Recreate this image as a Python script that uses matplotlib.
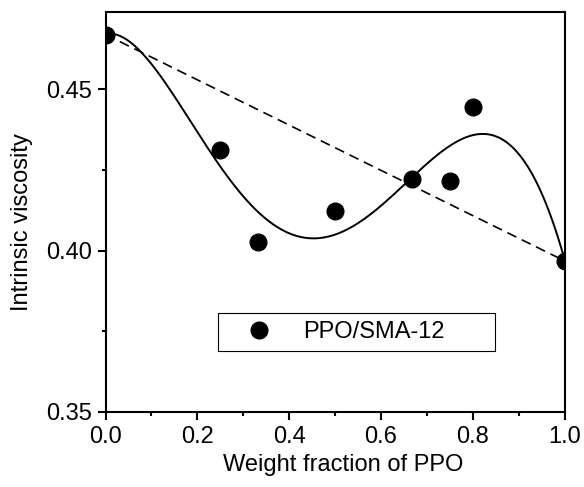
import numpy as np
import matplotlib
matplotlib.use('Agg')
import matplotlib.pyplot as plt
from matplotlib.ticker import MultipleLocator, FormatStrFormatter

# weight fraction of PPO and intrinsic viscosity
frac = [0.0, 0.25, 0.333, 0.5, 0.667, 0.75, 0.8, 1.0]
visc = [0.467, 0.4313, 0.4025, 0.4122, 0.4222, 0.4217, 0.4445, 0.3968]
fit_degree = 5  # polynomial fit drawn through the points

plt.rcParams['font.family'] = ['Liberation Sans', 'DejaVu Sans']

fig = plt.figure(figsize=(5.84, 4.87), dpi=100)
ax = fig.add_axes([0.1807, 0.1546, 0.7860, 0.8208])

# smooth fitted curve
p = np.polyfit(frac, visc, fit_degree)
xs = np.linspace(frac[0], frac[-1], 300)
ax.plot(xs, np.polyval(p, xs), color='black', lw=1.4)

# additivity line between the pure components
ax.plot([frac[0], frac[-1]], [visc[0], visc[-1]], color='black', lw=1.2,
        linestyle='--', dashes=(6, 3.6))

ax.plot(frac, visc, 'o', color='black', ms=12, label='PPO/SMA-12')

ax.set_xlim(0, 1.0)
ax.set_ylim(0.35, 0.474)
ax.xaxis.set_major_locator(MultipleLocator(0.2))
ax.xaxis.set_minor_locator(MultipleLocator(0.1))
ax.yaxis.set_major_locator(MultipleLocator(0.05))
ax.yaxis.set_minor_locator(MultipleLocator(0.025))
ax.xaxis.set_major_formatter(FormatStrFormatter('%.1f'))
ax.yaxis.set_major_formatter(FormatStrFormatter('%.2f'))
ax.tick_params(which='both', direction='out', top=False, right=False,
               labelsize=17, width=1.5, pad=4)
ax.tick_params(which='major', length=6)
ax.tick_params(which='minor', length=3)
for s in ax.spines.values():
    s.set_linewidth(1.5)

ax.set_xlabel('Weight fraction of PPO', fontsize=17)
ax.set_ylabel('Intrinsic viscosity', fontsize=17)
ax.xaxis.set_label_coords(0.5185, -0.107)
ax.yaxis.set_label_coords(-0.158, 0.474)

leg = ax.legend(loc='center', bbox_to_anchor=(0.245, 0.147, 0.604, 0.105),
                mode='expand', borderaxespad=0, fontsize=17, numpoints=1,
                handlelength=2.84, handletextpad=0.44, borderpad=0.32,
                fancybox=False, framealpha=1, edgecolor='black')
leg.get_frame().set_linewidth(0.8)

fig.savefig('out.png', dpi=100)
